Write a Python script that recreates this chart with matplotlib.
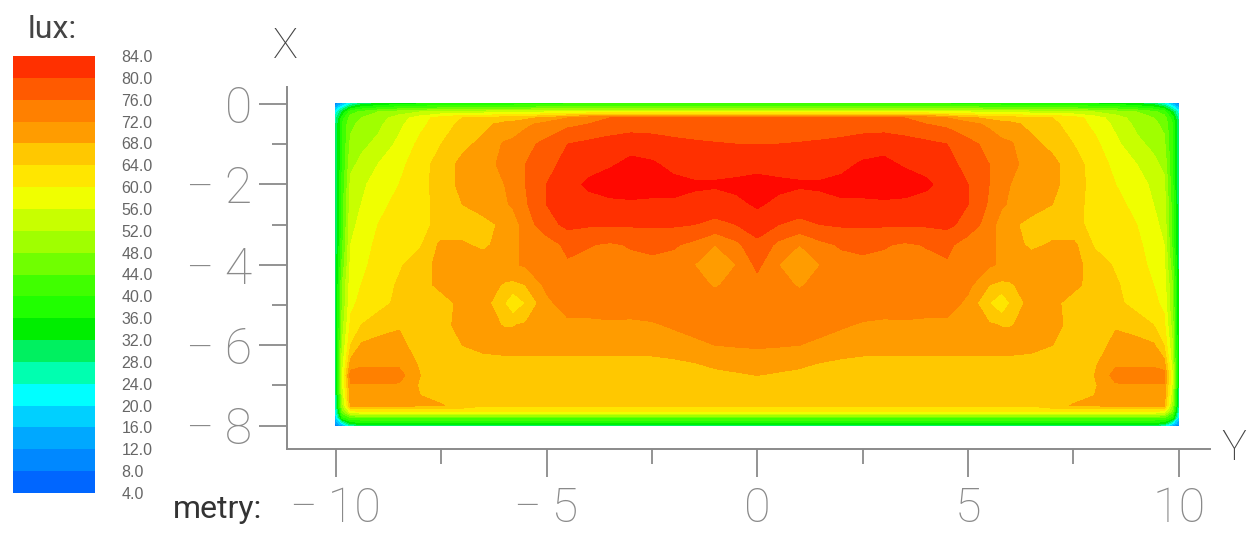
import numpy as np
import matplotlib
matplotlib.use("Agg")
import matplotlib.pyplot as plt
from matplotlib.colors import ListedColormap, BoundaryNorm

# Half of the symmetric field: positions along Y (left half incl. 0) and X
y_half = [-10, -9.85, -9.65, -9.4, -9, -8.5, -8, -7.5, -7, -6.5, -6, -5.8, -5.5, -5,
          -4.5, -4, -3.5, -3, -2.5, -2, -1.5, -1, -0.5, 0]
x_rows = [0, -0.1, -0.2, -0.35, -0.5, -1, -1.5, -2, -2.5, -3, -3.5, -4, -4.5, -4.95,
          -5.5, -6, -6.5, -6.75, -7, -7.5, -7.65, -7.8, -7.95, -8]
lux_half = [
 [10,16,24,30,33,35,36,37,38,38,38,38,39,39,40,40,40,40,40,40,40,40,40,40],
 [16,24,34,38,40,42,43,44,44,45,45,45,45,46,46,46,46,46,46,46,46,46,46,46],
 [22,32,42,45,48,50,52,53,54,54,55,55,55,56,56,57,57,57,57,57,57,57,57,57],
 [26,38,46,48,50,54,58,62,64,65,66,66,67,69,72,75,76,76,76,76,76,76,76,76],
 [28,40,47,49,51,55,59,62,65,67,69,69.5,71,73.5,75,76,77,78,78,78,78,78,78,78],
 [28,40,49,51,53,57,61,64,67,69,72.5,73,75,77,80,81,82,82.5,82,81,80.5,80.2,80,80],
 [28,40,51,53,56,59,62,66,69,70.5,73,74,76,78,82,83,83.5,85,84.5,83,82,82,82,82],
 [28,41,53,55,58,60,62.5,66,69,70,72,73,76,80,83,84.5,86,87,86,85,84.5,84.5,85,86],
 [28,42,54,56,59,61,63,65,68,70,71.5,72.5,75.5,80,82,83,83,83,83,83.5,83,82,83,84.5],
 [28,42,55,57,60,62,63.5,64.5,66,66.5,69,70,74,78.5,81,80.5,80.5,80.5,80.5,80.5,80,79,80,82],
 [29,43,56,58,61,62.5,63.5,69,68.5,67,70,71,73,74,77,76.2,75.5,76.3,77,76.5,75,72,75,79],
 [30,45,57,59,61.5,63.5,66,69.5,70.5,70.5,71,71.5,72.5,74.5,75.5,75,75,75,75,74.5,72,69,72,77],
 [30,48,58,60,62,64.5,66.5,69,71,70,67.5,67,68,73,74.5,75,75,75,75,75,73.5,71.5,73.5,74.5],
 [30,48,59,61,62.5,65,66.5,66.5,69,70,64,60,64,71,74,74,74.5,74.5,74.5,74.5,74.5,74,74.5,75],
 [30,50,61,64,66,67.5,65,67,69,69,67.8,67.8,68.5,70,71,71,71.2,71,71.5,72.5,73.5,74,74,74],
 [30,52,64,68.5,69.5,69.5,65.5,66,68,69,69.5,69.5,69.5,69.5,69.5,69.5,69.5,69.5,69.5,70,71,72,72.3,72.5],
 [30,54,70,71.5,71.5,71.5,67.5,65,66.5,66.5,66.5,66.5,66.5,66.5,66.5,66.5,66.5,66.5,66.7,67,67.5,68.5,69,69.5],
 [30,56,74,74,74,73.5,68,65.5,65.5,65.5,65.5,65.5,65.5,65.5,65.5,65.5,65.5,65.5,65.7,66,66.5,67,67.5,68],
 [29,55,71.5,71.5,71.5,71.5,67.5,66,65,65,65,65,65,65,65,65,65,65,65,65,65,65,65,65],
 [26,50,69,69,69,69,68.5,68.2,67,64.5,64.5,64.5,64.5,64.5,64.5,64.5,64.5,64.5,64.5,64.5,64.5,64.5,64.5,64.5],
 [22,46,58,60,60,60,60,60,60,60,60,60,60,60,60,60,60,60,60,60,60,60,60,60],
 [18,38,44,44,44,44,44,44,44,44,44,44,44,44,44,44,44,44,44,44,44,44,44,44],
 [12,20,32,34,34,34,34,34,34,34,34,34,34,34,34,34,34,34,34,34,34,34,34,34],
 [8,14,24,28,30,30,30,30,30,30,30,30,30,30,30,30,30,30,30,30,30,30,30,30],
]
levels = [4, 8, 12, 16, 20, 24, 28, 32, 36, 40, 44, 48, 52, 56, 60, 64, 68, 72, 76, 80, 84]
band_colors = ["#0066ff", "#0088ff", "#00a8ff", "#00d0ff", "#00ffff", "#00ffb0", "#00f060",
               "#00ee00", "#20ff00", "#40ff00", "#70ff00", "#a0ff00", "#c8ff00", "#f0ff00",
               "#ffe600", "#ffc800", "#ff9c00", "#ff8000", "#ff5a00", "#ff3000"]
peak_color = "#ff0800"
legend_labels = ["84.0", "80.0", "76.0", "72.0", "68.0", "64.0", "60.0", "56.0", "52.0", "48.0", "44.0",
                 "40.0", "36.0", "32.0", "28.0", "24.0", "20.0", "16.0", "12.0", "8.0", "4.0"]
x_major = [0, -2, -4, -6, -8]
x_minor = [-1, -3, -5, -7]
y_major = [-10, -5, 0, 5, 10]
y_minor = [-7.5, -2.5, 2.5, 7.5]

W, H = 1249, 533
GRAY = "#8a8a8a"
FONT = ["Roboto", "DejaVu Sans"]
fig = plt.figure(figsize=(W / 100, H / 100), dpi=100, facecolor="white")

ax = fig.add_axes([287 / W, 1 - 449 / H, (1210 - 287) / W, (449 - 87) / H])
ax.set_xlim(-11.16, 10.74)
ax.set_ylim(-8.58, 0.42)

half = np.array(lux_half, dtype=float)
field = np.hstack([half, half[:, -2::-1]])
ycoords = np.array(y_half + [-v for v in y_half[-2::-1]])
cmap = ListedColormap(band_colors)
cmap.set_over(peak_color)
cmap.set_under(band_colors[0])
norm = BoundaryNorm(levels, cmap.N)
ax.contourf(ycoords, np.array(x_rows), field, levels=levels, cmap=cmap, norm=norm, extend="both")

for s in ("top", "right"):
    ax.spines[s].set_visible(False)
for s in ("left", "bottom"):
    ax.spines[s].set_color(GRAY)
    ax.spines[s].set_linewidth(1.4)

ax.set_xticks(y_major)
ax.set_xticks(y_minor, minor=True)
ax.set_yticks(x_major)
ax.set_yticks(x_minor, minor=True)
ax.set_xticklabels([f"\u2212\u2009{abs(v)}" if v < 0 else str(v) for v in y_major])
ax.set_yticklabels([f"\u2212\u2009{abs(v)}" if v < 0 else str(v) for v in x_major])
ax.tick_params(axis="both", which="major", length=20, width=1.3, color=GRAY, labelcolor=GRAY)
ax.tick_params(axis="x", which="major", labelsize=35, pad=6)
ax.tick_params(axis="y", which="major", labelsize=36, pad=5)
ax.tick_params(axis="both", which="minor", length=11, width=1.3, color=GRAY)
for t in ax.get_xticklabels() + ax.get_yticklabels():
    t.set_family(FONT)
    t.set_fontweight("light")

def ptext(px, py, s, size, color, **kw):
    fig.text(px / W, 1 - py / H, s, fontsize=size, color=color, family=FONT,
             ha="center", va="center", **kw)

ptext(285, 47, "X", 30, "#444444", fontweight="light")
ptext(1234, 449, "Y", 30, "#444444", fontweight="light")
ptext(52, 29, "lux:", 23, "#444444")
ptext(218, 510, "metry:", 23, "#333333")

# Legend bar
cax = fig.add_axes([13 / W, 1 - 493 / H, 82 / W, (493 - 56) / H])
cax.pcolormesh([0, 1], levels, np.array(levels[:-1]).reshape(-1, 1) + 2, cmap=cmap, norm=norm)
cax.set_xticks([])
cax.set_ylim(4, 84)
cax.yaxis.tick_right()
cax.set_yticks(levels[::-1])
cax.set_yticklabels(legend_labels)
cax.tick_params(axis="y", length=0, pad=19, labelsize=11.5, labelcolor="#666666")
for t in cax.get_yticklabels():
    t.set_family(["Liberation Sans"])
for s in cax.spines.values():
    s.set_visible(False)

fig.savefig("out.png", dpi=100, facecolor="white")
